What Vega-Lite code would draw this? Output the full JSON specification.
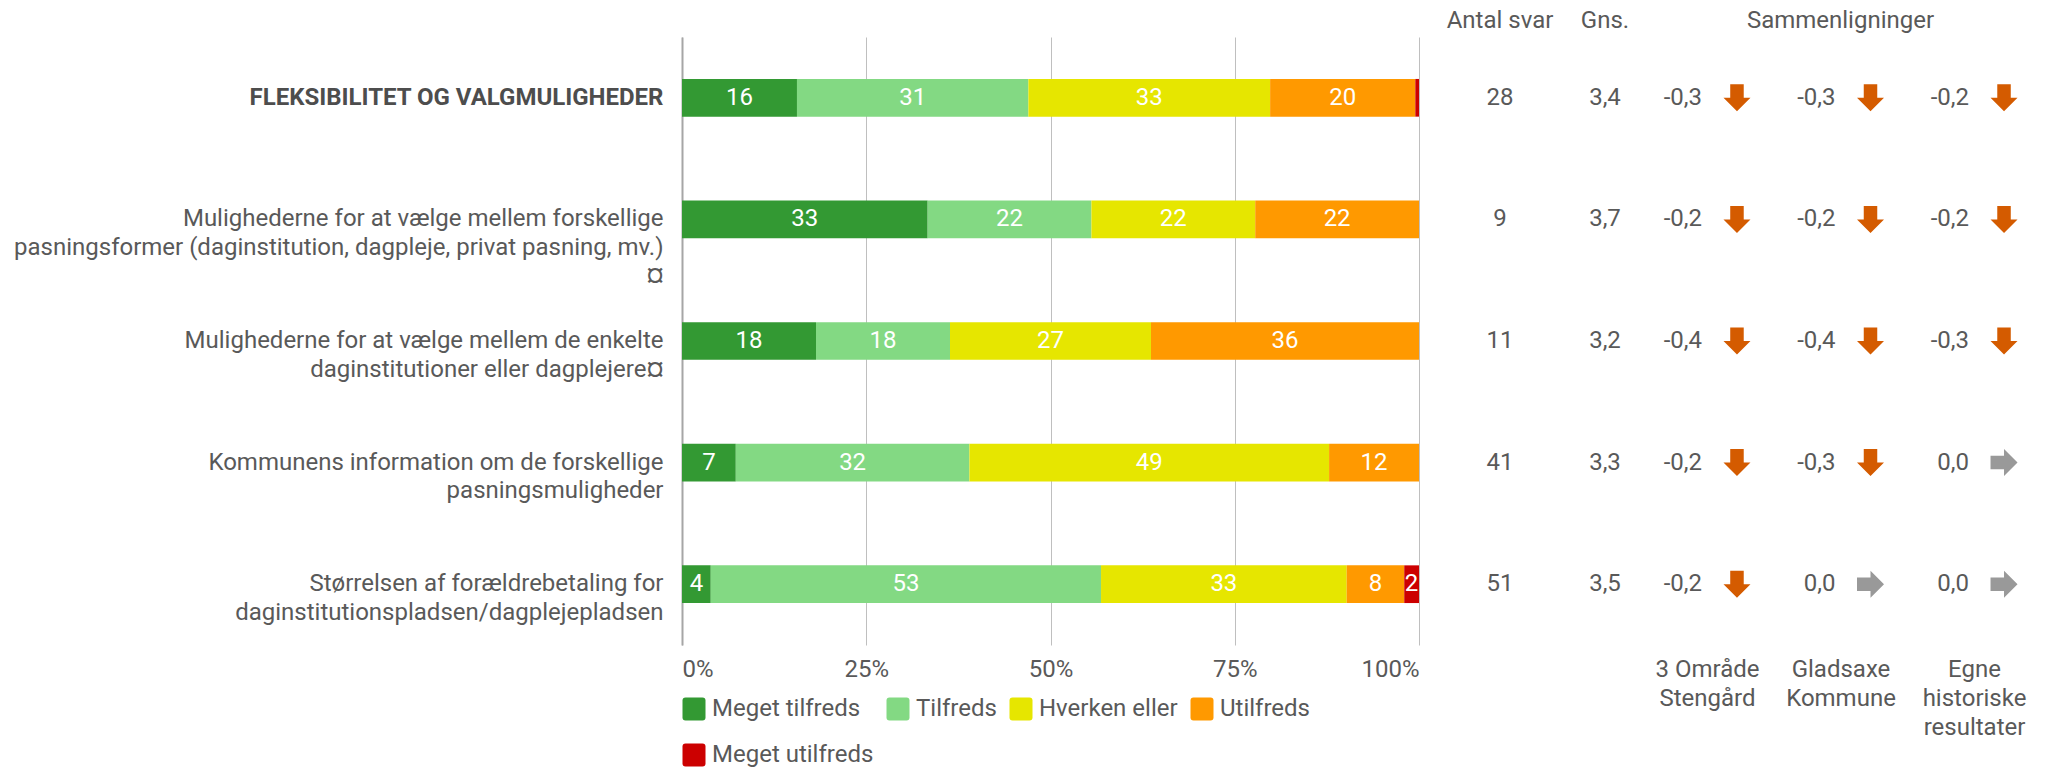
{
  "$schema": "https://vega.github.io/schema/vega-lite/v6.json",
  "padding": {"left": 13, "top": 9, "right": 0, "bottom": 0},
  "spacing": 0,
  "bounds": "flush",
  "datasets": {
    "bars": [
      {"q": "FLEKSIBILITET OG VALGMULIGHEDER", "cat": "Meget tilfreds", "pct": 15.6},
      {"q": "FLEKSIBILITET OG VALGMULIGHEDER", "cat": "Tilfreds", "pct": 31.4},
      {"q": "FLEKSIBILITET OG VALGMULIGHEDER", "cat": "Hverken eller", "pct": 32.8},
      {"q": "FLEKSIBILITET OG VALGMULIGHEDER", "cat": "Utilfreds", "pct": 19.7},
      {"q": "FLEKSIBILITET OG VALGMULIGHEDER", "cat": "Meget utilfreds", "pct": 0.5},
      {"q": "Mulighederne for at vælge mellem forskellige|pasningsformer (daginstitution, dagpleje, privat pasning, mv.)|¤", "cat": "Meget tilfreds", "pct": 33.3},
      {"q": "Mulighederne for at vælge mellem forskellige|pasningsformer (daginstitution, dagpleje, privat pasning, mv.)|¤", "cat": "Tilfreds", "pct": 22.2},
      {"q": "Mulighederne for at vælge mellem forskellige|pasningsformer (daginstitution, dagpleje, privat pasning, mv.)|¤", "cat": "Hverken eller", "pct": 22.2},
      {"q": "Mulighederne for at vælge mellem forskellige|pasningsformer (daginstitution, dagpleje, privat pasning, mv.)|¤", "cat": "Utilfreds", "pct": 22.2},
      {"q": "Mulighederne for at vælge mellem de enkelte|daginstitutioner eller dagplejere¤", "cat": "Meget tilfreds", "pct": 18.2},
      {"q": "Mulighederne for at vælge mellem de enkelte|daginstitutioner eller dagplejere¤", "cat": "Tilfreds", "pct": 18.2},
      {"q": "Mulighederne for at vælge mellem de enkelte|daginstitutioner eller dagplejere¤", "cat": "Hverken eller", "pct": 27.3},
      {"q": "Mulighederne for at vælge mellem de enkelte|daginstitutioner eller dagplejere¤", "cat": "Utilfreds", "pct": 36.4},
      {"q": "Kommunens information om de forskellige|pasningsmuligheder", "cat": "Meget tilfreds", "pct": 7.3},
      {"q": "Kommunens information om de forskellige|pasningsmuligheder", "cat": "Tilfreds", "pct": 31.7},
      {"q": "Kommunens information om de forskellige|pasningsmuligheder", "cat": "Hverken eller", "pct": 48.8},
      {"q": "Kommunens information om de forskellige|pasningsmuligheder", "cat": "Utilfreds", "pct": 12.2},
      {"q": "Størrelsen af forældrebetaling for|daginstitutionspladsen/dagplejepladsen", "cat": "Meget tilfreds", "pct": 3.9},
      {"q": "Størrelsen af forældrebetaling for|daginstitutionspladsen/dagplejepladsen", "cat": "Tilfreds", "pct": 52.9},
      {"q": "Størrelsen af forældrebetaling for|daginstitutionspladsen/dagplejepladsen", "cat": "Hverken eller", "pct": 33.3},
      {"q": "Størrelsen af forældrebetaling for|daginstitutionspladsen/dagplejepladsen", "cat": "Utilfreds", "pct": 7.8},
      {"q": "Størrelsen af forældrebetaling for|daginstitutionspladsen/dagplejepladsen", "cat": "Meget utilfreds", "pct": 2.0}
    ],
    "table": [
      {"q": "FLEKSIBILITET OG VALGMULIGHEDER", "n": 28, "gns": 3.4},
      {"q": "Mulighederne for at vælge mellem forskellige|pasningsformer (daginstitution, dagpleje, privat pasning, mv.)|¤", "n": 9, "gns": 3.7},
      {"q": "Mulighederne for at vælge mellem de enkelte|daginstitutioner eller dagplejere¤", "n": 11, "gns": 3.2},
      {"q": "Kommunens information om de forskellige|pasningsmuligheder", "n": 41, "gns": 3.3},
      {"q": "Størrelsen af forældrebetaling for|daginstitutionspladsen/dagplejepladsen", "n": 51, "gns": 3.5}
    ],
    "comp": [
      {"q": "FLEKSIBILITET OG VALGMULIGHEDER", "comp": "3 Område|Stengård", "val": -0.3, "dir": "down"},
      {"q": "FLEKSIBILITET OG VALGMULIGHEDER", "comp": "Gladsaxe|Kommune", "val": -0.3, "dir": "down"},
      {"q": "FLEKSIBILITET OG VALGMULIGHEDER", "comp": "Egne|historiske|resultater", "val": -0.2, "dir": "down"},
      {"q": "Mulighederne for at vælge mellem forskellige|pasningsformer (daginstitution, dagpleje, privat pasning, mv.)|¤", "comp": "3 Område|Stengård", "val": -0.2, "dir": "down"},
      {"q": "Mulighederne for at vælge mellem forskellige|pasningsformer (daginstitution, dagpleje, privat pasning, mv.)|¤", "comp": "Gladsaxe|Kommune", "val": -0.2, "dir": "down"},
      {"q": "Mulighederne for at vælge mellem forskellige|pasningsformer (daginstitution, dagpleje, privat pasning, mv.)|¤", "comp": "Egne|historiske|resultater", "val": -0.2, "dir": "down"},
      {"q": "Mulighederne for at vælge mellem de enkelte|daginstitutioner eller dagplejere¤", "comp": "3 Område|Stengård", "val": -0.4, "dir": "down"},
      {"q": "Mulighederne for at vælge mellem de enkelte|daginstitutioner eller dagplejere¤", "comp": "Gladsaxe|Kommune", "val": -0.4, "dir": "down"},
      {"q": "Mulighederne for at vælge mellem de enkelte|daginstitutioner eller dagplejere¤", "comp": "Egne|historiske|resultater", "val": -0.3, "dir": "down"},
      {"q": "Kommunens information om de forskellige|pasningsmuligheder", "comp": "3 Område|Stengård", "val": -0.2, "dir": "down"},
      {"q": "Kommunens information om de forskellige|pasningsmuligheder", "comp": "Gladsaxe|Kommune", "val": -0.3, "dir": "down"},
      {"q": "Kommunens information om de forskellige|pasningsmuligheder", "comp": "Egne|historiske|resultater", "val": 0.0, "dir": "right"},
      {"q": "Størrelsen af forældrebetaling for|daginstitutionspladsen/dagplejepladsen", "comp": "3 Område|Stengård", "val": -0.2, "dir": "down"},
      {"q": "Størrelsen af forældrebetaling for|daginstitutionspladsen/dagplejepladsen", "comp": "Gladsaxe|Kommune", "val": 0.0, "dir": "right"},
      {"q": "Størrelsen af forældrebetaling for|daginstitutionspladsen/dagplejepladsen", "comp": "Egne|historiske|resultater", "val": 0.0, "dir": "right"}
    ]
  },
  "resolve": {
    "scale": {"y": "independent", "x": "independent", "color": "independent", "shape": "independent"},
    "legend": {"color": "independent", "shape": "independent"}
  },
  "hconcat": [
    {
      "width": 737,
      "height": 608,
      "data": {"name": "bars"},
      "transform": [
        {"calculate": "indexof(['Meget tilfreds','Tilfreds','Hverken eller','Utilfreds','Meget utilfreds'], datum.cat)", "as": "ord"},
        {"stack": "pct", "groupby": ["q"], "sort": [{"field": "ord", "order": "ascending"}], "offset": "normalize", "as": ["p0", "p1"]},
        {"calculate": "(datum.p0 + datum.p1) / 2", "as": "pm"}
      ],
      "encoding": {
        "y": {
          "field": "q", "type": "nominal", "sort": null,
          "scale": {"paddingInner": 0.69, "paddingOuter": 0.345},
          "axis": {
            "title": null,
            "labelExpr": "split(datum.label, '|')",
            "labelFontSize": 24,
            "labelLineHeight": 28.5,
            "labelPadding": 19,
            "labelLimit": 0,
            "ticks": false,
            "domain": true,
            "domainColor": "#a6a6a6",
            "domainWidth": 2,
            "labelColor": {"condition": {"test": "datum.value === 'FLEKSIBILITET OG VALGMULIGHEDER'", "value": "#4d4d4d"}, "value": "#595959"},
            "labelFontWeight": {"condition": {"test": "datum.value === 'FLEKSIBILITET OG VALGMULIGHEDER'", "value": "bold"}, "value": "normal"}
          }
        }
      },
      "layer": [
        {
          "mark": {"type": "bar"},
          "encoding": {
            "x": {
              "field": "p0", "type": "quantitative",
              "scale": {"domain": [0, 1]},
              "axis": {
                "title": null,
                "values": [0, 0.25, 0.5, 0.75, 1],
                "format": ".0%",
                "grid": true,
                "gridColor": "#bfbfbf",
                "gridWidth": 1,
                "domain": false,
                "ticks": false,
                "labelFlush": true,
                "labelPadding": 12,
                "labelFontSize": 24,
                "labelColor": "#595959"
              }
            },
            "x2": {"field": "p1"},
            "color": {
              "field": "cat", "type": "nominal",
              "scale": {
                "domain": ["Meget tilfreds", "Tilfreds", "Hverken eller", "Utilfreds", "Meget utilfreds"],
                "range": ["#339933", "#83d983", "#e6e600", "#ff9900", "#cc0000"]
              },
              "legend": {
                "orient": "bottom",
                "title": null,
                "columns": 4,
                "symbolType": "M-0.74,-1L0.74,-1Q1,-1 1,-0.74L1,0.74Q1,1 0.74,1L-0.74,1Q-1,1 -1,0.74L-1,-0.74Q-1,-1 -0.74,-1Z",
                "symbolSize": 529,
                "symbolStrokeWidth": 0,
                "symbolOpacity": 1,
                "labelFontSize": 24,
                "labelColor": "#595959",
                "labelLimit": 400,
                "labelOffset": 6,
                "columnPadding": 12,
                "rowPadding": 22,
                "offset": 16
              }
            }
          }
        },
        {
          "transform": [{"filter": "datum.pct >= 1.5"}],
          "mark": {"type": "text", "color": "white", "fontSize": 24},
          "encoding": {
            "x": {"field": "pm", "type": "quantitative"},
            "text": {"field": "pct", "type": "quantitative", "format": ".0f"}
          }
        }
      ]
    },
    {
      "width": 162,
      "height": 608,
      "title": {"text": "Antal svar"},
      "data": {"name": "table"},
      "mark": {"type": "text", "fontSize": 24, "color": "#595959"},
      "encoding": {
        "y": {"field": "q", "type": "nominal", "sort": null, "scale": {"paddingInner": 0.69, "paddingOuter": 0.345}, "axis": null},
        "text": {"field": "n", "type": "quantitative", "format": "d"}
      }
    },
    {
      "width": 48,
      "height": 608,
      "title": {"text": "Gns."},
      "data": {"name": "table"},
      "mark": {"type": "text", "fontSize": 24, "color": "#595959"},
      "encoding": {
        "y": {"field": "q", "type": "nominal", "sort": null, "scale": {"paddingInner": 0.69, "paddingOuter": 0.345}, "axis": null},
        "text": {"field": "gns", "type": "quantitative", "format": ".1f"}
      }
    },
    {
      "width": 423,
      "height": 608,
      "title": {"text": "Sammenligninger"},
      "data": {"name": "comp"},
      "encoding": {
        "y": {"field": "q", "type": "nominal", "sort": null, "scale": {"paddingInner": 0.69, "paddingOuter": 0.345}, "axis": null},
        "x": {
          "field": "comp", "type": "nominal", "sort": null,
          "scale": {"type": "point", "padding": 0.584},
          "axis": {
            "title": null,
            "orient": "bottom",
            "labelExpr": "split(datum.label, '|')",
            "labelAngle": 0,
            "labelAlign": "center",
            "labelBaseline": "top",
            "labelFontSize": 24,
            "labelLineHeight": 29,
            "labelPadding": 12,
            "labelColor": "#595959",
            "labelLimit": 0,
            "domain": false,
            "ticks": false,
            "grid": false
          }
        }
      },
      "layer": [
        {
          "mark": {"type": "text", "align": "right", "dx": -5, "fontSize": 24, "color": "#595959"},
          "encoding": {"text": {"field": "val", "type": "quantitative", "format": ".1f"}}
        },
        {
          "mark": {"type": "point", "filled": true, "size": 729, "xOffset": 30, "opacity": 1, "strokeWidth": 0},
          "encoding": {
            "shape": {
              "field": "dir", "type": "nominal",
              "scale": {
                "domain": ["down", "right"],
                "range": ["M-0.5,-1L0.5,-1L0.5,0L1,0L0,1L-1,0L-0.5,0Z", "M-1,-0.5L0,-0.5L0,-1L1,0L0,1L0,0.5L-1,0.5Z"]
              },
              "legend": null
            },
            "color": {"condition": {"test": "datum.dir === 'down'", "value": "#d45b00"}, "value": "#999999"}
          }
        }
      ]
    }
  ],
  "config": {
    "font": "Roboto",
    "view": {"stroke": null},
    "title": {"fontSize": 24, "fontWeight": "normal", "color": "#595959", "anchor": "middle"},
    "locale": {"number": {"decimal": ",", "thousands": ".", "grouping": [3], "currency": ["", " kr."], "minus": "-"}}
  }
}
